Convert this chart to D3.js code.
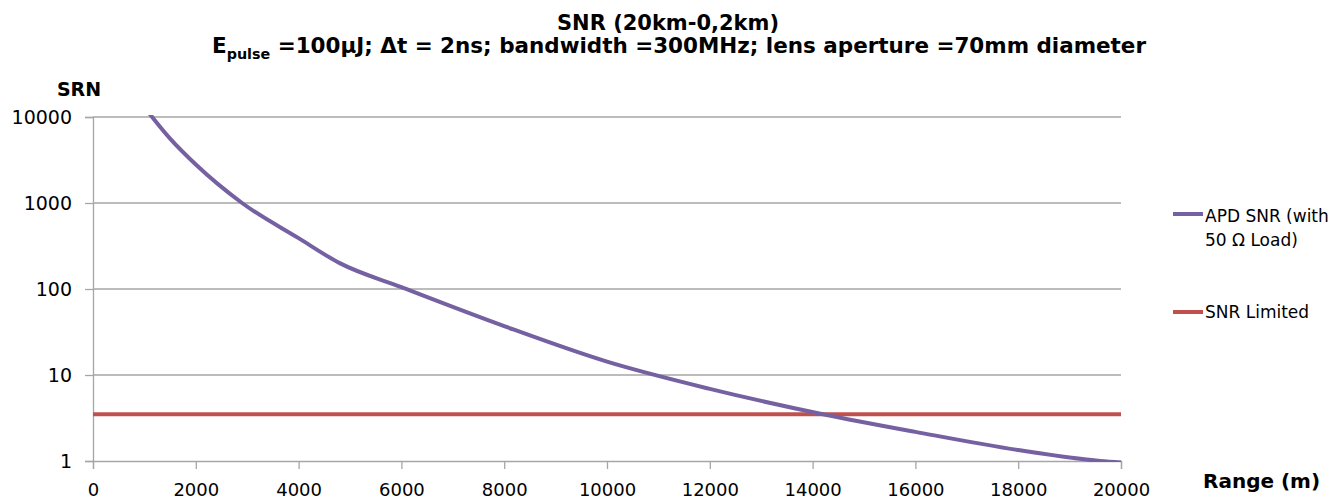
<!DOCTYPE html>
<html>
<head>
<meta charset="utf-8">
<script src="https://cdn.jsdelivr.net/npm/d3@7"></script>
<style>
  body { margin: 0; background: #fff; }
  svg text { font-family: "DejaVu Sans", Verdana, sans-serif; fill: #000; }
  .bold { font-weight: bold; }
</style>
</head>
<body>
<div class="chart"></div>
<script>
// APD SNR (with 50 Ohm load) vs range
var ranges = [1000, 1500, 2000, 2900, 4000, 4800, 6000, 8000, 10000, 12000, 14200, 16000, 18000, 19600, 20000];
var apdSnr = [13000, 5600, 2800, 1000, 390, 200, 105, 37, 14.3, 6.9, 3.5, 2.18, 1.34, 1.0, 0.96];
var snrLimited = 3.5;
var xTicks = [0, 2000, 4000, 6000, 8000, 10000, 12000, 14000, 16000, 18000, 20000];
var yTicks = [1, 10, 100, 1000, 10000];
var seriesNames = ['APD SNR (with', '50 \u03A9 Load)'];
var limitName = 'SNR Limited';

var chart = {
  element: '.chart',
  width: 1337,
  height: 502,
  margin: { top: 117, right: 216, bottom: 41, left: 93 },
  purple: '#7561a1',
  red: '#c0504d',
  grid: '#a6a6a6',

  draw: function(){
    var self = this,
        m = this.margin,
        w = this.width - m.left - m.right,
        h = this.height - m.top - m.bottom;

    var svg = d3.select(this.element).append('svg')
        .attr('width', this.width)
        .attr('height', this.height);

    var x = d3.scaleLinear().domain([0, 20000]).range([m.left, m.left + w]);
    var y = d3.scaleLog().domain([1, 10000]).range([m.top + h, m.top]);

    // gridlines
    svg.append('g').selectAll('line')
        .data(yTicks.slice(1))
      .enter().append('line')
        .attr('x1', m.left).attr('x2', m.left + w)
        .attr('y1', function(d){ return y(d); })
        .attr('y2', function(d){ return y(d); })
        .attr('stroke', this.grid).attr('stroke-width', 1.3);

    // y axis
    var yAxis = svg.append('g')
        .attr('transform', 'translate(' + m.left + ',0)')
        .call(d3.axisLeft(y).tickValues(yTicks).tickFormat(d3.format('d')).tickSize(8).tickPadding(13));
    // x axis
    var xAxis = svg.append('g')
        .attr('transform', 'translate(0,' + (m.top + h) + ')')
        .call(d3.axisBottom(x).tickValues(xTicks).tickSize(8).tickPadding(14).tickFormat(d3.format('d')));

    [yAxis, xAxis].forEach(function(a){
      a.select('.domain').attr('stroke', self.grid).attr('stroke-width', 1.3);
      a.selectAll('.tick line').attr('stroke', self.grid).attr('stroke-width', 1.3);
      a.selectAll('text').attr('fill', '#000');
    });
    yAxis.selectAll('text').style('font-size', '19px');
    xAxis.selectAll('text').style('font-size', '18px');

    svg.append('clipPath').attr('id', 'plot-clip')
      .append('rect')
        .attr('x', m.left).attr('y', m.top - 2)
        .attr('width', w + 2).attr('height', h + 3);

    // SNR limited
    svg.append('line')
        .attr('x1', x(0)).attr('x2', x(20000))
        .attr('y1', y(snrLimited)).attr('y2', y(snrLimited))
        .attr('stroke', this.red).attr('stroke-width', 4);

    // APD curve
    var line = d3.line()
        .x(function(d){ return x(d[0]); })
        .y(function(d){ return y(d[1]); })
        .curve(d3.curveMonotoneX);
    svg.append('path')
        .datum(ranges.map(function(r, i){ return [r, apdSnr[i]]; }))
        .attr('clip-path', 'url(#plot-clip)')
        .attr('fill', 'none')
        .attr('stroke', this.purple)
        .attr('stroke-width', 4)
        .attr('d', line);

    // titles
    svg.append('text').attr('class', 'bold')
        .attr('x', 668).attr('y', 30)
        .attr('text-anchor', 'middle')
        .attr('textLength', 222).attr('lengthAdjust', 'spacingAndGlyphs')
        .style('font-size', '22px')
        .text('SNR (20km-0,2km)');

    var sub = svg.append('text').attr('class', 'bold')
        .attr('x', 212).attr('y', 53)
        .attr('textLength', 934).attr('lengthAdjust', 'spacingAndGlyphs')
        .style('font-size', '21px');
    sub.append('tspan').text('E');
    sub.append('tspan').attr('dy', 6).style('font-size', '14px').text('pulse');
    sub.append('tspan').attr('dy', -6).text(' =100\u00B5J; \u0394t = 2ns; bandwidth =300MHz; lens aperture =70mm diameter');

    svg.append('text').attr('class', 'bold')
        .attr('x', 79).attr('y', 96)
        .attr('text-anchor', 'middle')
        .style('font-size', '19px')
        .text('SRN');

    svg.append('text').attr('class', 'bold')
        .attr('x', 1203).attr('y', 488)
        .style('font-size', '20px')
        .text('Range (m)');

    // legend
    var legend = svg.append('g');
    legend.append('line')
        .attr('x1', 1173).attr('x2', 1203).attr('y1', 214).attr('y2', 214)
        .attr('stroke', this.purple).attr('stroke-width', 4);
    legend.selectAll('text.apd')
        .data(seriesNames)
      .enter().append('text')
        .attr('class', 'apd')
        .attr('x', 1205)
        .attr('y', function(d, i){ return 222 + i * 24; })
        .style('font-size', '17px')
        .text(function(d){ return d; });
    legend.append('line')
        .attr('x1', 1173).attr('x2', 1203).attr('y1', 312).attr('y2', 312)
        .attr('stroke', this.red).attr('stroke-width', 4);
    legend.append('text')
        .attr('x', 1205).attr('y', 318)
        .style('font-size', '17px')
        .text(limitName);

    return svg;
  }
};

chart.draw();
</script>
</body>
</html>
